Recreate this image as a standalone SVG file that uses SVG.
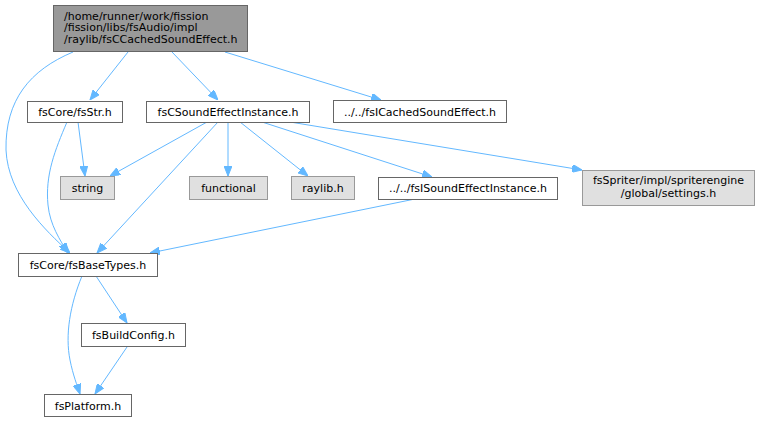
<svg xmlns="http://www.w3.org/2000/svg" width="759" height="423" viewBox="0 0 759 423">
<style>
text{font-family:"DejaVu Sans",sans-serif;font-size:11px;fill:#000}
.n rect{fill:#fff;stroke:#666;stroke-width:1}
.g rect{fill:#e0e0e0;stroke:#999;stroke-width:1}
.r rect{fill:#999;stroke:#666;stroke-width:1}
.e path{fill:none;stroke:#63b8ff;stroke-width:1}
</style>
<defs>
<marker id="a" viewBox="0 0 10 8" refX="10" refY="4" markerWidth="10" markerHeight="8" markerUnits="userSpaceOnUse" orient="auto">
<path d="M0,0 L10,4 L0,8 z" fill="#63b8ff" stroke="#63b8ff"/>
</marker>
</defs>
<g class="e">
<path marker-end="url(#a)" d="M128,52 L90,100"/>
<path marker-end="url(#a)" d="M172,52 L218,100"/>
<path marker-end="url(#a)" d="M225,52 L381,100"/>
<path marker-end="url(#a)" d="M73,52 C30,70 5,100 6,150 C8,195 45,230 70,253"/>
<path marker-end="url(#a)" d="M78,122 L85,176"/>
<path marker-end="url(#a)" d="M67,122 C55,150 45,175 48,205 C50,225 60,240 68,253"/>
<path marker-end="url(#a)" d="M207,122 L110,176"/>
<path marker-end="url(#a)" d="M218,122 L97,253"/>
<path marker-end="url(#a)" d="M228,122 L228,176"/>
<path marker-end="url(#a)" d="M240,122 L308,176"/>
<path marker-end="url(#a)" d="M262,122 L432,177"/>
<path marker-end="url(#a)" d="M290,122 L582,170"/>
<path marker-end="url(#a)" d="M415,199 L150,253"/>
<path marker-end="url(#a)" d="M96,276 L127,323"/>
<path marker-end="url(#a)" d="M82,276 C70,305 65,335 70,360 C73,375 77,385 80,394"/>
<path marker-end="url(#a)" d="M127,347 L95,394"/>
</g>
<g id="root" class="r"><rect x="53.5" y="5.5" width="194" height="46"/>
<text x="64" y="19.5">/home/runner/work/fission</text>
<text x="64" y="31">/fission/libs/fsAudio/impl</text>
<text x="64" y="42.5">/raylib/fsCCachedSoundEffect.h</text></g>
<g id="fsStr" class="n"><rect x="27.5" y="101.5" width="95" height="21"/><text x="75" y="116" text-anchor="middle">fsCore/fsStr.h</text></g>
<g id="fsCSEI" class="n"><rect x="146.5" y="101.5" width="163" height="21"/><text x="228" y="116" text-anchor="middle">fsCSoundEffectInstance.h</text></g>
<g id="fsICSE" class="n"><rect x="333.5" y="100.5" width="173" height="22"/><text x="420" y="116" text-anchor="middle">../../fsICachedSoundEffect.h</text></g>
<g id="string" class="g"><rect x="60.5" y="176.5" width="54" height="23"/><text x="87.5" y="192" text-anchor="middle">string</text></g>
<g id="functional" class="g"><rect x="189.5" y="176.5" width="78" height="23"/><text x="228.5" y="192" text-anchor="middle">functional</text></g>
<g id="raylib" class="g"><rect x="291.5" y="176.5" width="63" height="23"/><text x="323" y="192" text-anchor="middle">raylib.h</text></g>
<g id="fsISEI" class="n"><rect x="378.5" y="177.5" width="179" height="22"/><text x="468" y="192" text-anchor="middle">../../fsISoundEffectInstance.h</text></g>
<g id="settings" class="g"><rect x="582.5" y="170.5" width="172" height="35"/><text x="668.5" y="184" text-anchor="middle">fsSpriter/impl/spriterengine</text><text x="668.5" y="197" text-anchor="middle">/global/settings.h</text></g>
<g id="fsBaseTypes" class="n"><rect x="18.5" y="253.5" width="139" height="23"/><text x="88" y="269" text-anchor="middle">fsCore/fsBaseTypes.h</text></g>
<g id="fsBuildConfig" class="n"><rect x="81.5" y="323.5" width="104" height="23"/><text x="133.5" y="339" text-anchor="middle">fsBuildConfig.h</text></g>
<g id="fsPlatform" class="n"><rect x="44.5" y="394.5" width="87" height="22"/><text x="88" y="410" text-anchor="middle">fsPlatform.h</text></g>
</svg>
